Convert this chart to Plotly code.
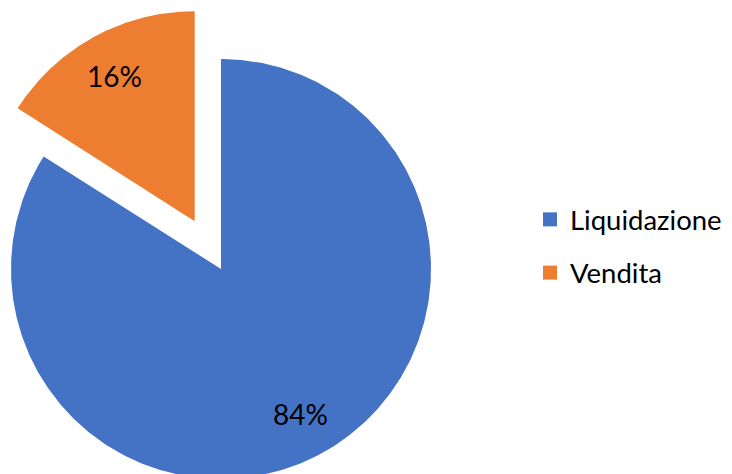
import numpy as np
import plotly.graph_objects as go

# ---- data ----
labels = ["Liquidazione", "Vendita"]
values = [84, 16]
colors = ["#4472C4", "#ED7D31"]
pull = [0.0, 0.26]

# ---- geometry (pixels, relative to the figure's own origin) ----
W, H = 732, 474
CX, CY, R = 213, 261, 210
FONT = "Lato"

total = sum(values)
fig = go.Figure()

start = 0.0  # fraction of full turn, clockwise from 12 o'clock
for lab, v, c, p in zip(labels, values, colors, pull):
    frac = v / total
    a0, a1 = start, start + frac
    mid = (a0 + a1) / 2
    ox, oy = p * np.sin(2 * np.pi * mid), p * np.cos(2 * np.pi * mid)
    t = np.linspace(a0, a1, 400)
    xs = np.concatenate([[ox], ox + np.sin(2 * np.pi * t), [ox]])
    ys = np.concatenate([[oy], oy + np.cos(2 * np.pi * t), [oy]])
    fig.add_trace(go.Scatter(
        x=xs, y=ys, fill="toself", fillcolor=c, mode="lines",
        line=dict(width=0, color=c), showlegend=False, hoverinfo="skip",
    ))
    lr = 0.79
    fig.add_annotation(
        x=ox + lr * np.sin(2 * np.pi * mid), y=oy + lr * np.cos(2 * np.pi * mid),
        text=f"{round(frac * 100)}%", showarrow=False,
        font=dict(family=FONT, size=28, color="#000000"),
    )
    start = a1

# legend entries
for i, (lab, c) in enumerate(zip(labels, colors)):
    fig.add_trace(go.Scatter(
        x=[None], y=[None], mode="markers", name=lab,
        marker=dict(symbol="square", size=14, color=c),
        legendgroup=f"g{i}", showlegend=True,
    ))

fig.update_layout(
    width=W, height=H, autosize=False,
    margin=dict(l=0, r=0, t=0, b=0),
    paper_bgcolor="white", plot_bgcolor="white",
    xaxis=dict(range=[-CX / R, (W - CX) / R], visible=False, fixedrange=True),
    yaxis=dict(range=[-(H - CY) / R, CY / R], visible=False, fixedrange=True),
    legend=dict(
        x=522 / W, xanchor="left", y=1 - 238 / H, yanchor="middle",
        font=dict(family=FONT, size=27.5, color="#000000"),
        tracegroupgap=14.5, bgcolor="rgba(0,0,0,0)",
    ),
    showlegend=True,
)

fig.write_html("out.html")
